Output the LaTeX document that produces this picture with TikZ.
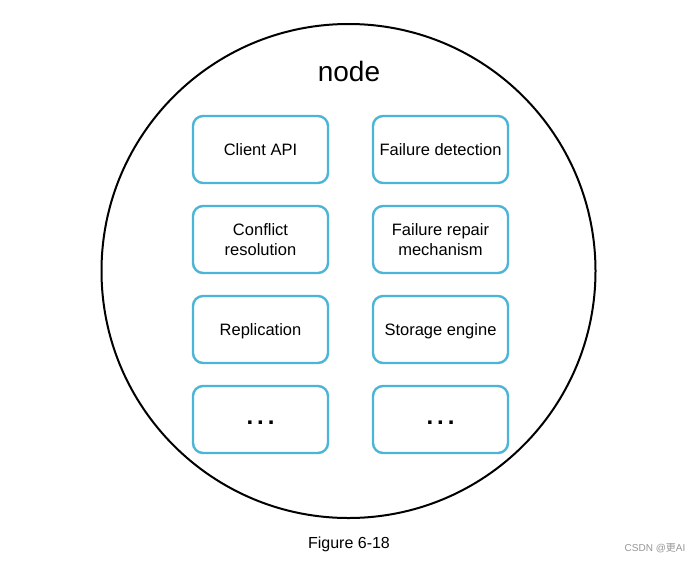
\documentclass[tikz,border=0pt]{standalone}
\usepackage{fontspec}
\setmainfont{Liberation Sans}
\newfontfamily\cjkfont{Noto Sans CJK SC}
\definecolor{boxblue}{RGB}{75,181,216}
\definecolor{wmgray}{RGB}{150,150,150}
\begin{document}
\begin{tikzpicture}[x=1pt,y=-1pt,
  comp/.style={draw=boxblue, line width=2.4pt, rounded corners=10pt,
    minimum width=135pt, minimum height=67pt, inner sep=0pt,
    align=center, font=\fontsize{16.5}{20}\selectfont},
  oneline/.style={comp, text height=12pt, text depth=0pt},
  dots/.style={anchor=base, font=\fontsize{24}{24}\bfseries\selectfont, inner sep=0pt}]
\useasboundingbox (0,0) rectangle (699,563);
\fill[white] (0,0) rectangle (699,563);
\node[draw=black, line width=2pt, circle, minimum size=494pt, inner sep=0pt] (outer) at (348.5,271) {};
\node[font=\fontsize{28}{28}\selectfont] (title) at (349,71) {node};
\node[oneline] (api) at (260.5,149.5) {Client API};
\node[oneline] (fd) at (440.5,149.5) {Failure detection};
\node[comp] (cr) at (260.5,239.5) {Conflict\\resolution};
\node[comp] (fr) at (440.5,239.5) {Failure repair\\mechanism};
\node[oneline] (rep) at (260.5,329.5) {Replication};
\node[oneline] (se) at (440.5,329.5) {Storage engine};
\node[comp] (e1) at (260.5,419.5) {};
\node[comp] (e2) at (440.5,419.5) {};
\node[dots] (d1) at ([yshift=-5pt]e1.center) {.\,.\,.};
\node[dots] (d2) at ([yshift=-5pt]e2.center) {.\,.\,.};
\node[font=\fontsize{16}{16}\selectfont] (cap) at (349,544) {Figure 6-18};
\node[font=\fontsize{10}{10}\selectfont, text=wmgray] (wm) at (655,548) {CSDN @\cjkfont 更\rmfamily AI};
\end{tikzpicture}
\end{document}
